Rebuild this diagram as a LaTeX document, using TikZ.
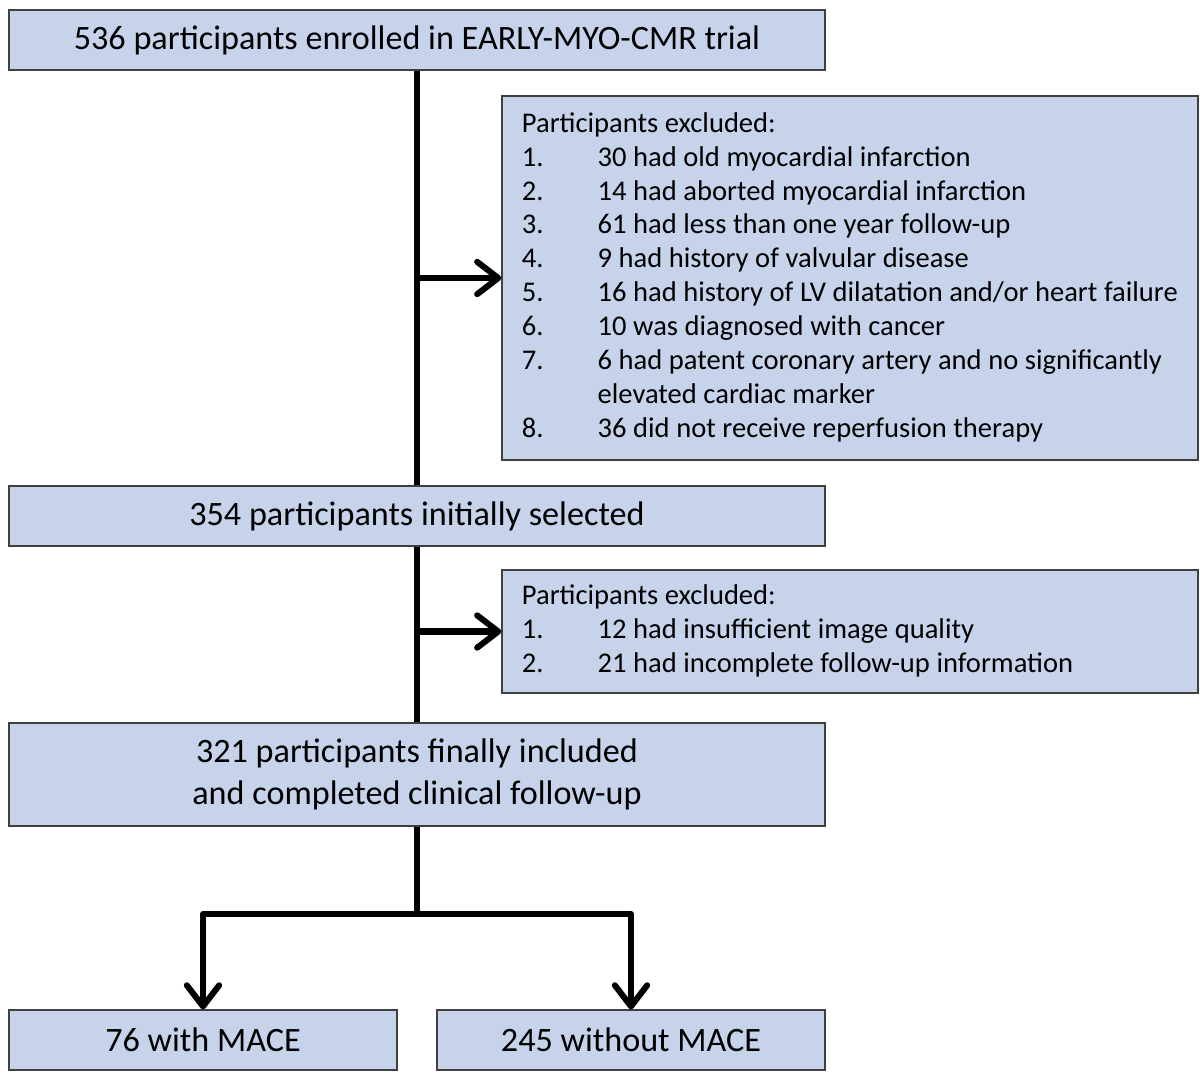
\documentclass[tikz,border=0pt]{standalone}
\usepackage{fontspec}
\setmainfont{Carlito}
\usetikzlibrary{arrows.meta}
\definecolor{boxblue}{HTML}{C6D3EA}
\newcommand{\tightsp}{\spaceskip=0.23em\relax}
\tikzstyle{box}=[draw=black!75, fill=boxblue, line width=0.9pt, inner sep=0pt, align=center, font=\fontsize{24.3}{29.8}\selectfont]
\tikzstyle{exclbox}=[box, minimum width=17.4cm, text width=16.4cm, align=left, font=\fontsize{20.3}{24.1}\selectfont]
\tikzstyle{flow}=[line width=4.3pt, line join=round]
\tikzstyle{arr}=[flow, -{Straight Barb[length=15pt, width=23pt, line cap=round, line join=round]}]

\begin{document}
\begin{tikzpicture}[x=0.025cm, y=-0.025cm]
\useasboundingbox (0, 0) rectangle (1200, 1079);
% Boxes
    \node[box, minimum width=20.4cm, minimum height=1.5cm] (enrolled) at (417, 40) {536 participants enrolled in EARLY-MYO-CMR trial};
    \node[exclbox, minimum height=9.1cm] (excl1) at (850, 278) {\tightsp
        \begin{tabular}{@{}p{53.9pt}@{}l@{}}
        \multicolumn{2}{@{}l@{}}{Participants excluded:}\\
        1. & 30 had old myocardial infarction\\
        2. & 14 had aborted myocardial infarction\\
        3. & 61 had less than one year follow-up\\
        4. & 9 had history of valvular disease\\
        5. & 16 had history of LV dilatation and/or heart failure\\
        6. & 10 was diagnosed with cancer\\
        7. & 6 had patent coronary artery and no significantly\\
           & elevated cardiac marker\\
        8. & 36 did not receive reperfusion therapy
        \end{tabular}};
    \node[box, minimum width=20.4cm, minimum height=1.5cm] (selected) at (417, 516) {354 participants initially selected};
    \node[exclbox, minimum height=3.075cm] (excl2) at (850, 631.5) {\tightsp
        \begin{tabular}{@{}p{53.9pt}@{}l@{}}
        \multicolumn{2}{@{}l@{}}{Participants excluded:}\\
        1. & 12 had insufficient image quality\\
        2. & 21 had incomplete follow-up information
        \end{tabular}};
    \node[box, minimum width=20.4cm, minimum height=2.575cm] (included) at (417, 774.5) {321 participants finally included\\and completed clinical follow-up};
    \node[box, minimum width=9.7cm, minimum height=1.5cm] (mace) at (203, 1040) {76 with MACE};
    \node[box, minimum width=9.7cm, minimum height=1.5cm] (nomace) at (631, 1040) {245 without MACE};
    \coordinate (split) at (417, 914);
% Connectors
    \draw[flow] (enrolled.south) -- (selected.north);
    \draw[arr] (enrolled.south |- excl1.west) -- (excl1.west);
    \draw[flow] (selected.south) -- (included.north);
    \draw[arr] (selected.south |- excl2.west) -- (excl2.west);
    \draw[flow] (included.south) -- (split);
    \draw[arr] (split) -| (mace.north);
    \draw[arr] (split) -| (nomace.north);
\end{tikzpicture}
\end{document}
